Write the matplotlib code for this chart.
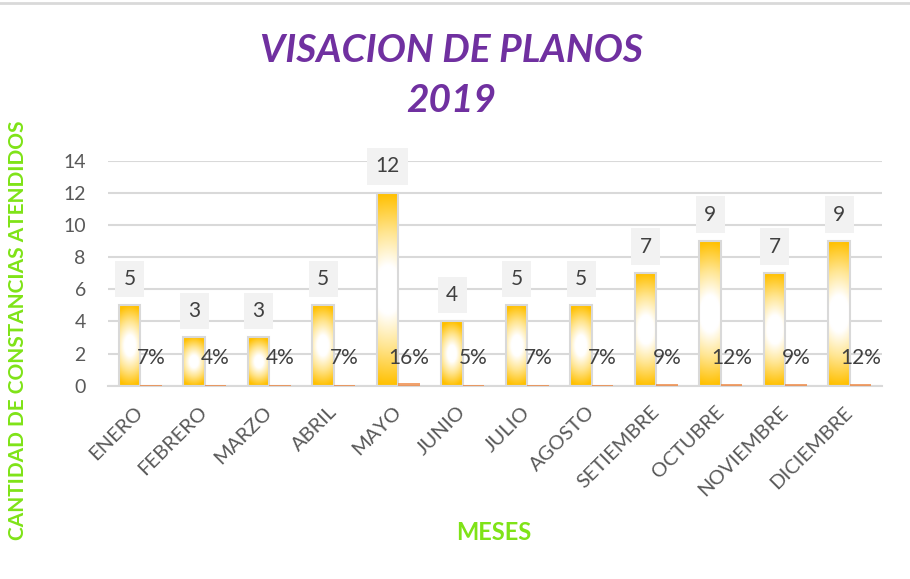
import matplotlib.pyplot as plt
import numpy as np
from matplotlib.colors import LinearSegmentedColormap

meses = ['ENERO', 'FEBRERO', 'MARZO', 'ABRIL', 'MAYO', 'JUNIO', 'JULIO',
         'AGOSTO', 'SETIEMBRE', 'OCTUBRE', 'NOVIEMBRE', 'DICIEMBRE']
cantidad = [5, 3, 3, 5, 12, 4, 5, 5, 7, 9, 7, 9]
porcentaje = [0.07, 0.04, 0.04, 0.07, 0.16, 0.05, 0.07, 0.07, 0.09, 0.12, 0.09, 0.12]
etiquetas_pct = ['7%', '4%', '4%', '7%', '16%', '5%', '7%', '7%', '9%', '12%', '9%', '12%']

plt.rcParams['font.family'] = ['Lato', 'DejaVu Sans']

fig = plt.figure(figsize=(9.1, 5.79), dpi=100)
ax = fig.add_axes([108 / 910, 1 - 385.7 / 579, 774 / 910, 225 / 579])

x = np.arange(len(meses))
w = 0.33

oro = LinearSegmentedColormap.from_list(
    'oro', [(0, '#ffffff'), (0.25, '#ffffff'), (0.6, '#ffe590'), (1, '#ffc000')])


def barra_degradado(ax, xc, h):
    # relleno tipo "degradado desde el centro" de Excel
    ny, nx = 200, 40
    yy, xx = np.mgrid[0:ny, 0:nx]
    dy = (yy - (ny - 1) / 2) / ((ny - 1) / 2)
    dx = (xx - (nx - 1) / 2) / ((nx - 1) / 2)
    escala = min(1.0, 4.0 / h)
    d = np.sqrt(dy ** 2 + (dx * 0.6 * escala) ** 2)
    ax.imshow(d, cmap=oro, vmin=0, vmax=1, aspect='auto', origin='lower',
              extent=[xc - w / 2, xc + w / 2, 0, h], zorder=2, interpolation='bilinear')


ax.bar(x - w / 2, cantidad, w, facecolor='none', edgecolor='#d9d9d9', linewidth=1.5, zorder=3)
for xi, v in zip(x, cantidad):
    barra_degradado(ax, xi - w / 2, v)
ax.bar(x + w / 2, porcentaje, w, color='#ed7d31', alpha=0.7, zorder=3)

for xi, v in zip(x, cantidad):
    ax.annotate(str(v), (xi - w / 2, v), xytext=(0, 19), textcoords='offset points',
                ha='center', va='center', fontsize=15, color='#404040',
                bbox=dict(boxstyle='square,pad=0.4', facecolor='#f2f2f2', edgecolor='none'),
                zorder=5)
for xi, t in zip(x, etiquetas_pct):
    ax.text(xi + w / 2, 1.7, t, ha='center', va='center', fontsize=15, color='#404040', zorder=5)

ax.set_xlim(-0.5, len(meses) - 0.5)
ax.set_ylim(0, 14)
ax.set_yticks(range(0, 15, 2))
ax.grid(axis='y', color='#d9d9d9', linewidth=1.5, zorder=0)
ax.set_axisbelow(True)
for s in ['top', 'right', 'left']:
    ax.spines[s].set_visible(False)
ax.spines['bottom'].set_color('#d9d9d9')
ax.spines['bottom'].set_linewidth(1.5)
ax.tick_params(axis='y', length=0, pad=16, labelsize=14, labelcolor='#595959')
ax.tick_params(axis='x', length=0, pad=17, labelsize=14.5, labelcolor='#595959')
ax.set_xticks(x)
ax.set_xticklabels(meses, rotation=45, ha='right', va='center', rotation_mode='anchor')

ax.set_ylabel('CANTIDAD DE CONSTANCIAS ATENDIDOS', fontsize=15, fontweight='bold',
              color='#7fe317')
ax.yaxis.set_label_coords(-80 / 774, 0.248)
fig.text(494 / 910, 1 - 533 / 579, 'MESES', ha='center', va='center', fontsize=17,
         fontweight='bold', color='#7fe317')
fig.text(451 / 910, 1 - 50 / 579, 'VISACION DE PLANOS', ha='center', va='center',
         fontsize=28, fontweight='bold', style='italic', color='#7030a0')
fig.text(451 / 910, 1 - 101 / 579, '2019', ha='center', va='center',
         fontsize=28, fontweight='bold', style='italic', color='#7030a0')

fig.add_artist(plt.Line2D([0, 1], [1 - 3 / 579, 1 - 3 / 579], color='#d9d9d9', linewidth=2))

fig.savefig('out.png', dpi=100)
